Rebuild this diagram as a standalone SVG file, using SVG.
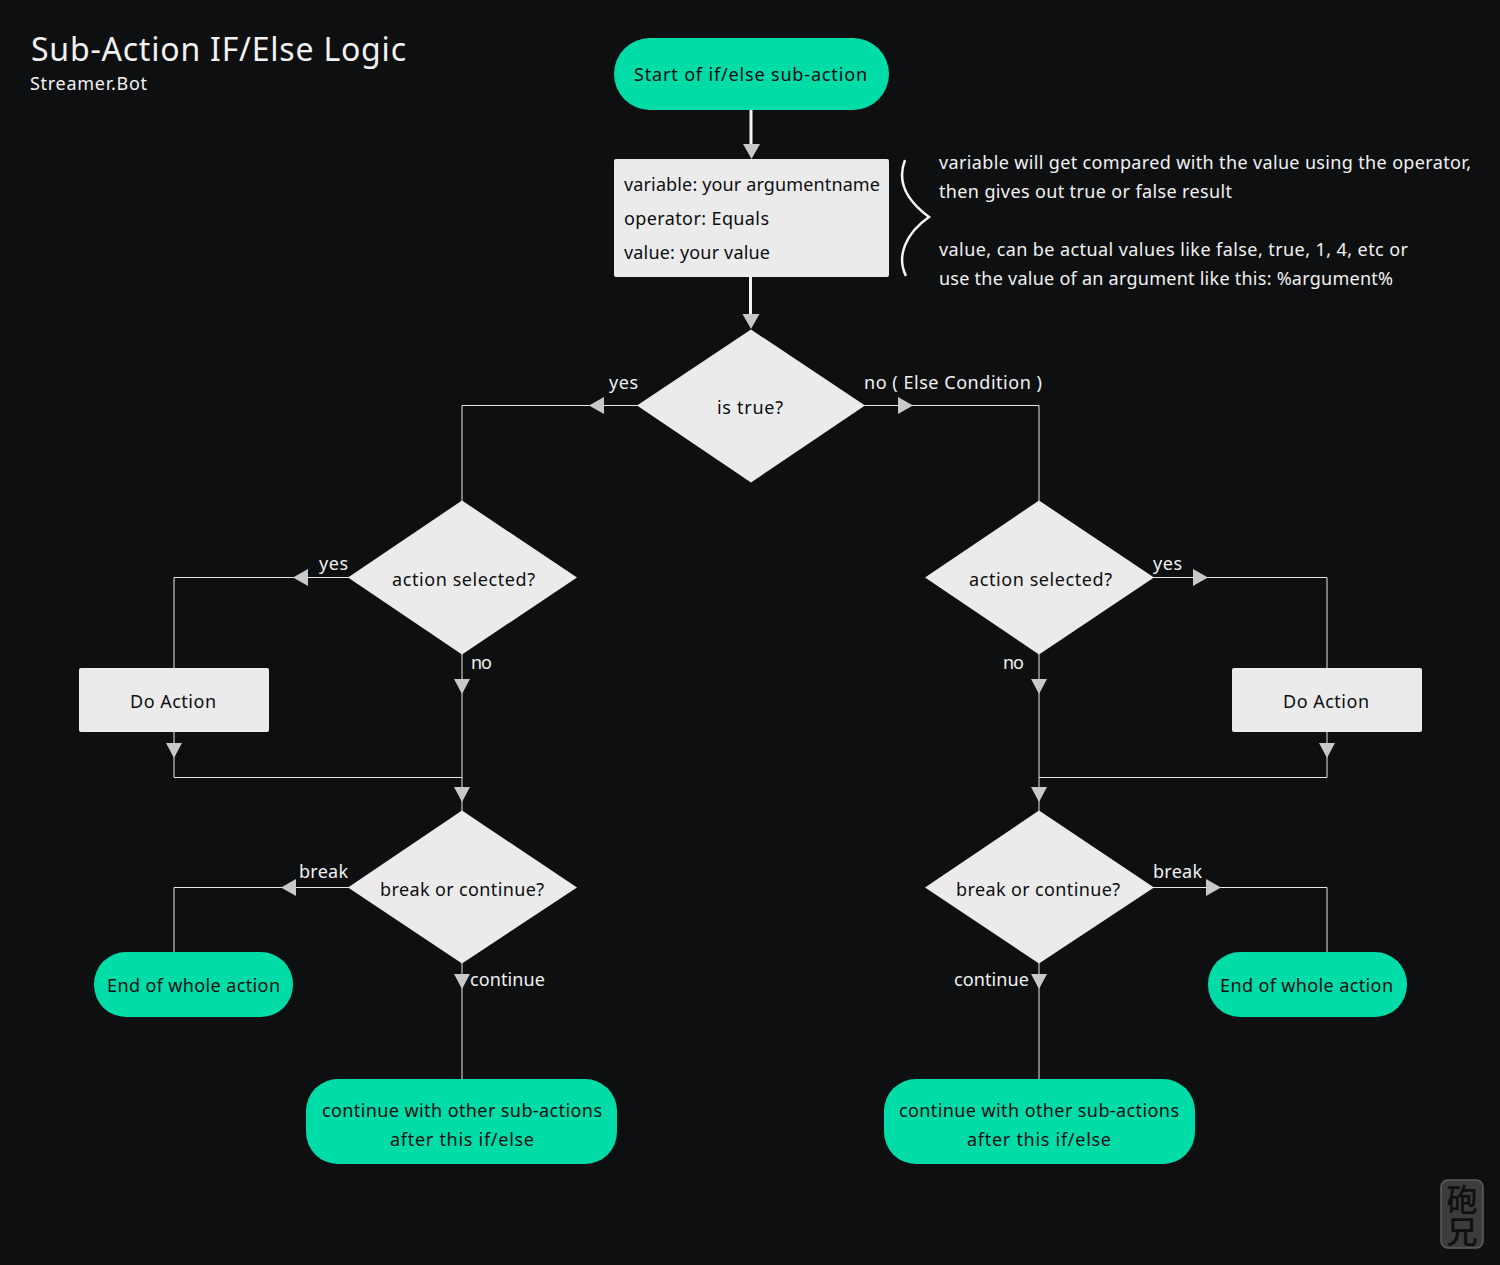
<svg xmlns="http://www.w3.org/2000/svg" width="1500" height="1265" viewBox="0 0 1500 1265">
<style>
text{font-family:"Noto Sans","Liberation Sans",sans-serif;font-size:18px}
.d{fill:#0d0e10}.w{fill:#f2f2f2}
.g{fill:#00dca8}.b{fill:#ebebeb}
.l{fill:none;stroke:#e6e6e6;stroke-width:1}
.t{fill:none;stroke:#f4f4f4;stroke-width:3}
.a{fill:#c9c9c9}
</style>
<rect width="1500" height="1265" fill="#0e0f11"/>
<g id="title"><text class="w" x="31" y="61" textLength="375" style="font-size:32px">Sub-Action IF/Else Logic</text><text class="w" x="30" y="90" textLength="117">Streamer.Bot</text></g>
<g id="connectors">
<path class="t" d="M751 110V145M750.500 277V315"/>
<path class="l" d="M638 405.500H462V501M864 405.500H1039V501M349 577.500H174V668M1153 577.500H1327V668M462 654V811M1039 654V811M174 732V777.500H462M1327 732V777.500H1039M349 887.500H174V952M1153 887.500H1327V952M462 963V1079M1039 963V1079"/>
<polygon class="a" points="743,144 760,144 751.500,159"/>
<polygon class="a" points="742.500,314 759.500,314 751,329"/>
<polygon class="a" points="589,405.500 604,397 604,414"/>
<polygon class="a" points="913,405.500 898,397 898,414"/>
<polygon class="a" points="293,577.500 308,569 308,586"/>
<polygon class="a" points="1208,577.500 1193,569 1193,586"/>
<polygon class="a" points="454,679 470,679 462,694"/>
<polygon class="a" points="1031,679 1047,679 1039,694"/>
<polygon class="a" points="166,743 182,743 174,758"/>
<polygon class="a" points="1319,743 1335,743 1327,758"/>
<polygon class="a" points="454,787 470,787 462,802"/>
<polygon class="a" points="1031,787 1047,787 1039,802"/>
<polygon class="a" points="281,887.500 296,879 296,896"/>
<polygon class="a" points="1221,887.500 1206,879 1206,896"/>
<polygon class="a" points="454,974 470,974 462,989"/>
<polygon class="a" points="1031,974 1047,974 1039,989"/>
<path fill="none" stroke="#f4f4f4" stroke-width="2.500" d="M905 160C898 178 903 198 929 217C906 233 896 256 906 276"/>
</g>
<g id="start"><rect class="g" x="614" y="38" width="275" height="72" rx="36"/><text class="d" x="634" y="81" textLength="233">Start of if/else sub-action</text></g>
<g id="vars"><rect class="b" x="614" y="159" width="275" height="118" rx="2"/><text class="d" x="624" y="191" textLength="256">variable: your argumentname</text><text class="d" x="624" y="225" textLength="145">operator: Equals</text><text class="d" x="624" y="259" textLength="146">value: your value</text></g>
<g id="note"><text class="w" x="939" y="169" textLength="532">variable will get compared with the value using the operator,</text><text class="w" x="939" y="198" textLength="293">then gives out true or false result</text><text class="w" x="939" y="256" textLength="469">value, can be actual values like false, true, 1, 4, etc or</text><text class="w" x="939" y="285" textLength="454">use the value of an argument like this: %argument%</text></g>
<g id="is-true"><polygon class="b" points="751,329.500 865,405.500 751,482.500 637,405.500"/><text class="d" x="717" y="414" textLength="66">is true?</text></g>
<g id="action-left"><polygon class="b" points="462,500.500 577,577.500 462,654.500 348,577.500"/><text class="d" x="392" y="586" textLength="143">action selected?</text></g>
<g id="action-right"><polygon class="b" points="1039,500.500 1154,577.500 1039,654.500 925,577.500"/><text class="d" x="969" y="586" textLength="143">action selected?</text></g>
<g id="do-left"><rect class="b" x="79" y="668" width="190" height="64" rx="2"/><text class="d" x="130" y="708" textLength="86">Do Action</text></g>
<g id="do-right"><rect class="b" x="1232" y="668" width="190" height="64" rx="2"/><text class="d" x="1283" y="708" textLength="86">Do Action</text></g>
<g id="break-left"><polygon class="b" points="462,810.500 577,887.500 462,963.500 348,887.500"/><text class="d" x="380" y="896" textLength="164">break or continue?</text></g>
<g id="break-right"><polygon class="b" points="1039,810.500 1154,887.500 1039,963.500 925,887.500"/><text class="d" x="956" y="896" textLength="164">break or continue?</text></g>
<g id="end-left"><rect class="g" x="94" y="952" width="199" height="65" rx="32"/><text class="d" x="107" y="992" textLength="173">End of whole action</text></g>
<g id="end-right"><rect class="g" x="1208" y="952" width="199" height="65" rx="32"/><text class="d" x="1220" y="992" textLength="173">End of whole action</text></g>
<g id="continue-left"><rect class="g" x="306" y="1079" width="311" height="85" rx="32"/><text class="d" x="322" y="1117" textLength="280">continue with other sub-actions</text><text class="d" x="390" y="1146" textLength="144">after this if/else</text></g>
<g id="continue-right"><rect class="g" x="884" y="1079" width="311" height="85" rx="32"/><text class="d" x="899" y="1117" textLength="280">continue with other sub-actions</text><text class="d" x="967" y="1146" textLength="144">after this if/else</text></g>
<g id="labels">
<text class="w" x="609" y="389" textLength="29">yes</text><text class="w" x="864" y="389" textLength="178">no ( Else Condition )</text>
<text class="w" x="319" y="570" textLength="29">yes</text><text class="w" x="1153" y="570" textLength="29">yes</text>
<text class="w" x="471" y="669" textLength="21">no</text><text class="w" x="1003" y="669" textLength="21">no</text>
<text class="w" x="299" y="878" textLength="49">break</text><text class="w" x="1153" y="878" textLength="49">break</text>
<text class="w" x="470" y="986" textLength="75">continue</text><text class="w" x="954" y="986" textLength="75">continue</text>
</g>
<g id="watermark"><rect x="1441" y="1180" width="42" height="68" rx="7" fill="#3c3c3c" stroke="#5e5e5e" stroke-width="1.500"/><text x="1462" y="1184" writing-mode="vertical-rl" style="font-family:'Noto Sans CJK SC',sans-serif;font-size:31px;font-weight:500;letter-spacing:1px" fill="#0f1012">砲兄</text></g>
</svg>
